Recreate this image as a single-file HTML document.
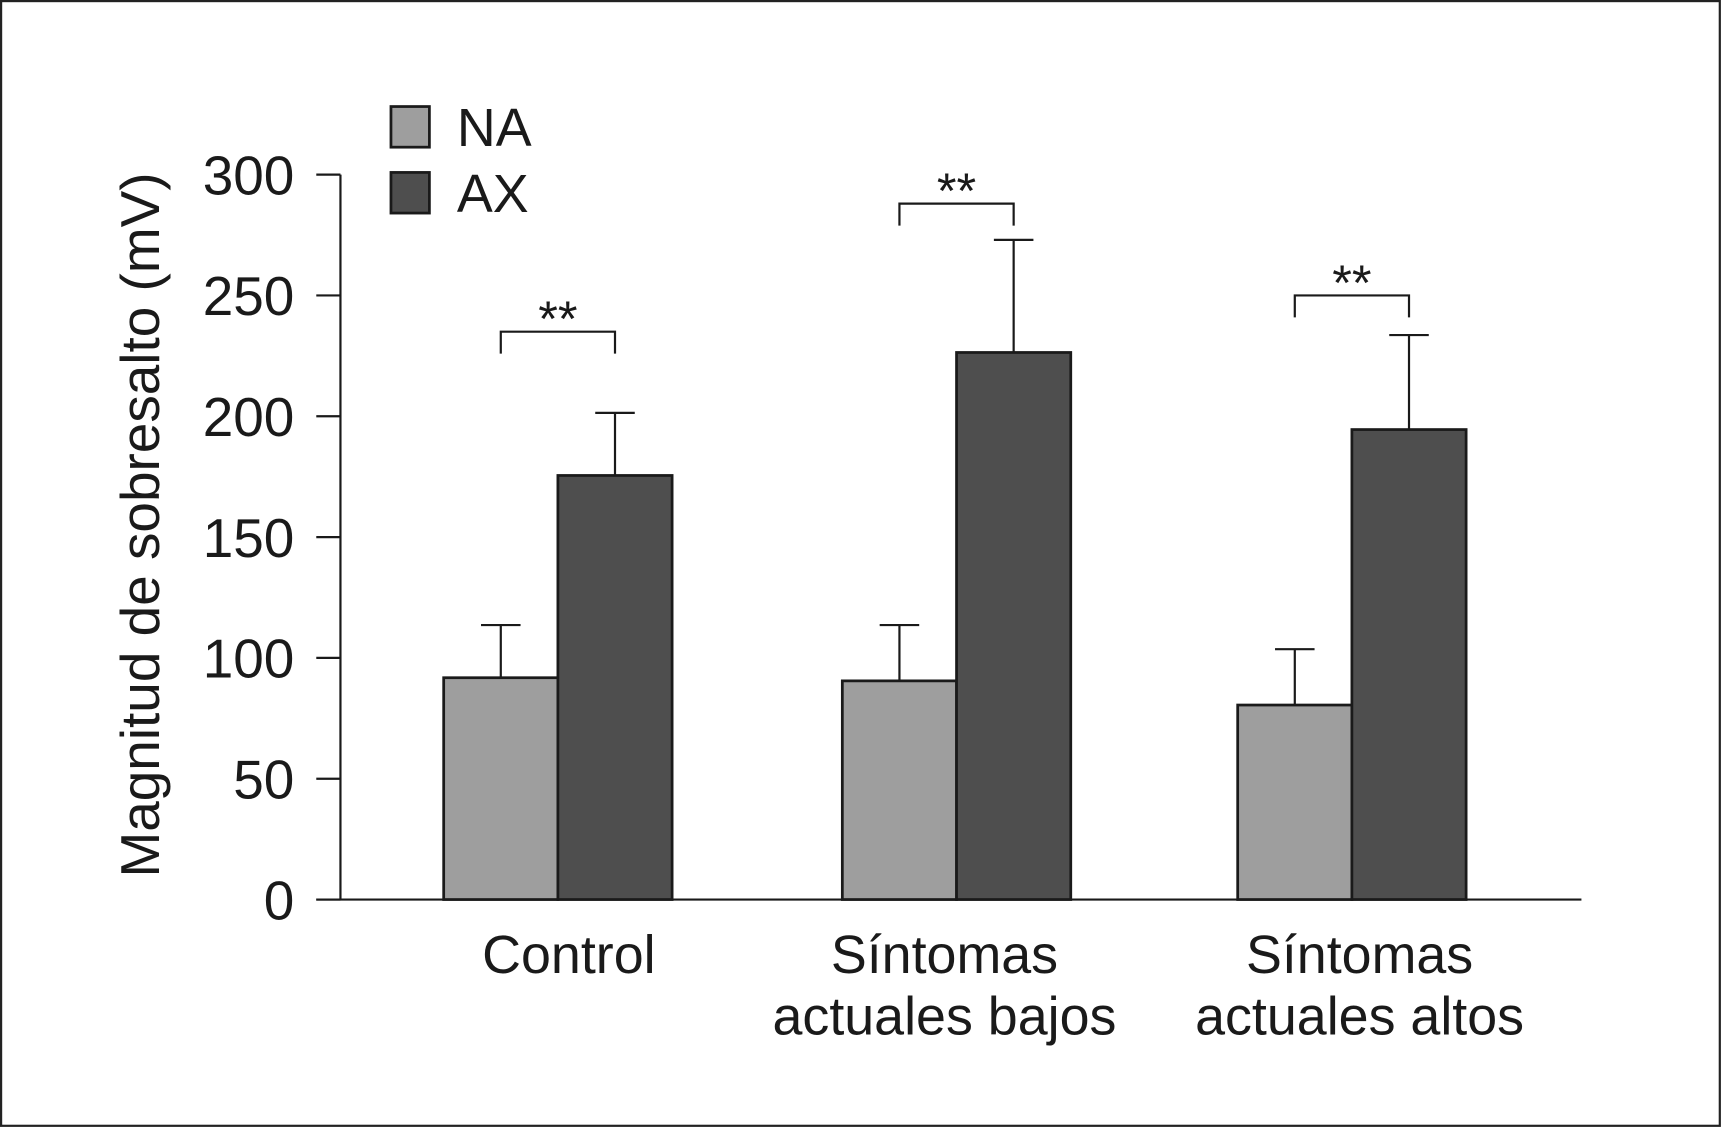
<!DOCTYPE html>
<html><head><meta charset="utf-8"><style>
html,body{margin:0;padding:0;background:#fff}
svg{display:block}
text{font-family:"Liberation Sans",sans-serif;fill:#1a1a1a}
</style></head><body>
<svg id="chart" width="1722" height="1128" viewBox="0 0 1568 1027" preserveAspectRatio="none" xmlns="http://www.w3.org/2000/svg">
<rect x="1" y="1" width="1565" height="1024" fill="#fff" stroke="#222" stroke-width="2"/>
<g id="plot"></g>
</svg>
<script>
const categories=[["Control"],["Síntomas","actuales bajos"],["Síntomas","actuales altos"]];
const naValues=[91.8,90.5,80.5];
const naErrors=[21.8,23.1,23.1];
const axValues=[175.5,226.4,194.5];
const axErrors=[25.9,46.6,39.1];
const yTicks=[0,50,100,150,200,250,300];
const sigLabels=["**","**","**"];
const sigLevels=[235,288,250];

const NS="http://www.w3.org/2000/svg";
const g=document.getElementById('plot');
function el(t,a,p){const e=document.createElementNS(NS,t);for(const k in a)e.setAttribute(k,a[k]);(p||g).appendChild(e);return e;}
const y0=819,pxPer=2.2;
function yS(v){return y0-v*pxPer;}
const groupStart=[404,767,1127],barW=104;
const labelCenters=[518,860,1238];
function xS(i,s){return groupStart[i]+s*barW;}

let e=el('line',{x1:310,y1:yS(300),x2:310,y2:y0,stroke:'#1a1a1a','stroke-width':2});

e=el('line',{x1:288,y1:y0,x2:1440,y2:y0,stroke:'#1a1a1a','stroke-width':2});

yTicks.forEach(v=>{
  let t=el('line',{x1:288,y1:yS(v),x2:310,y2:yS(v),stroke:'#1a1a1a','stroke-width':2});
  
  let l=el('text',{x:268,y:yS(v)+18,'text-anchor':'end','font-size':50});
  
  l.textContent=v;
});
e=el('text',{x:0,y:0,'text-anchor':'middle','font-size':50,transform:'translate(145,478) rotate(-90)'});

e.textContent='Magnitud de sobresalto (mV)';

function bar(i,s,v,err,fill,name){
  const x=xS(i,s),cx=x+barW/2;
  let eb=el('line',{x1:cx,y1:yS(v),x2:cx,y2:yS(v+err),stroke:'#1a1a1a','stroke-width':2});
  
  let cap=el('line',{x1:cx-18,y1:yS(v+err),x2:cx+18,y2:yS(v+err),stroke:'#1a1a1a','stroke-width':2});
  
  let r=el('rect',{x:x,y:yS(v),width:barW,height:y0-yS(v),fill:fill,stroke:'#1a1a1a','stroke-width':2.5});
  
}
categories.forEach((c,i)=>{
  bar(i,0,naValues[i],naErrors[i],'#9e9e9e','na-'+i);
  bar(i,1,axValues[i],axErrors[i],'#4e4e4e','ax-'+i);
  c.forEach((line,j)=>{
    let t=el('text',{x:labelCenters[i],y:886+j*56,'text-anchor':'middle','font-size':49});
    
    t.textContent=line;
  });
  const xa=xS(i,0)+barW/2,xb=xS(i,1)+barW/2,yb=yS(sigLevels[i]);
  let p=el('path',{d:`M${xa},${yb+20}V${yb}H${xb}V${yb+20}`,fill:'none',stroke:'#1a1a1a','stroke-width':2});
  
  let s=el('text',{x:(xa+xb)/2,y:yb+4,'text-anchor':'middle','font-size':46});
  
  s.textContent=sigLabels[i];
});

[['NA','#9e9e9e',97],['AX','#4e4e4e',157]].forEach(([n,f,y])=>{
  let r=el('rect',{x:356,y:y,width:35,height:37,fill:f,stroke:'#1a1a1a','stroke-width':2.5});
  
  let t=el('text',{x:416,y:y+36,'font-size':49});
  
  t.textContent=n;
});
</script>
</body></html>
